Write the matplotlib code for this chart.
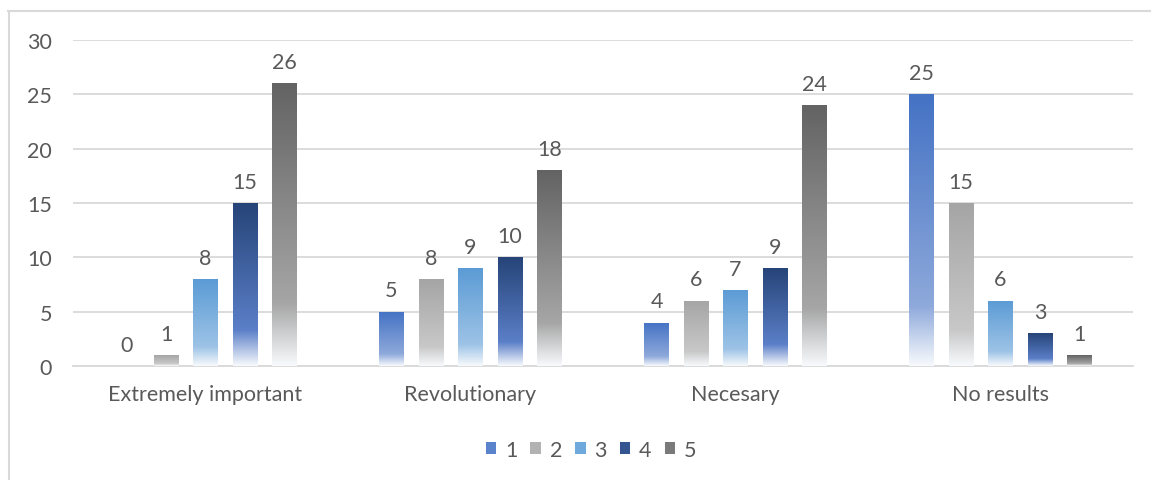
import matplotlib.pyplot as plt
import numpy as np
from matplotlib.colors import LinearSegmentedColormap, to_rgb
from matplotlib.patches import Patch
from matplotlib.lines import Line2D

categories = ['Extremely important', 'Revolutionary', 'Necesary', 'No results']
series_names = ['1', '2', '3', '4', '5']
s1 = [0, 5, 4, 25]
s2 = [1, 8, 6, 15]
s3 = [8, 9, 7, 6]
s4 = [15, 10, 9, 3]
s5 = [26, 18, 24, 1]
values = [s1, s2, s3, s4, s5]

# top colour, middle colour of each gradient
top_colors = ['#4472C4', '#A5A5A5', '#5B9BD5', '#264478', '#636363']
mid_colors = ['#8EA9DB', '#C8C8C8', '#9DC3E6', '#5B7FC8', '#A6A6A6']
legend_colors = ['#5A83CC', '#B2B2B2', '#6FA8DA', '#34558F', '#7A7A7A']

plt.rcParams['font.family'] = ['Lato', 'DejaVu Sans']
text_col = '#595959'
grid_col = '#D9D9D9'
fs = 15.5

fig = plt.figure(figsize=(11.51, 4.81), dpi=100)
ax = fig.add_axes([73 / 1151, 114 / 481, 1060 / 1151, 326 / 481])

# chart border
fig.add_artist(Line2D([8 / 1151, 1], [1 - 12 / 481, 1 - 12 / 481], color=grid_col, lw=1.5))
fig.add_artist(Line2D([8.5 / 1151, 8.5 / 1151], [0, 1 - 12 / 481], color=grid_col, lw=1.5))

x = np.arange(len(categories))
slot = 0.149
width = 0.091


def make_cmap(top, mid):
    return LinearSegmentedColormap.from_list(
        'g', [(0.0, to_rgb(top)), (0.78, to_rgb(mid)), (1.0, (0.97, 0.98, 0.99))])


for i, vals in enumerate(values):
    pos = x + (i - 2) * slot
    bars = ax.bar(pos, vals, width, color='none', edgecolor='none', zorder=3)
    cmap = make_cmap(top_colors[i], mid_colors[i])
    grad = np.linspace(0, 1, 256).reshape(-1, 1)
    for b, v in zip(bars, vals):
        if v > 0:
            im = ax.imshow(grad, cmap=cmap, aspect='auto', origin='upper',
                           extent=[b.get_x(), b.get_x() + width, 0, v], zorder=3)
            im.set_clip_path(b)
        ax.text(b.get_x() + width / 2, v + 1.05, str(v), ha='center', va='bottom',
                fontsize=fs, color=text_col)

ax.set_xlim(-0.5, 3.5)
ax.set_ylim(0, 30)
ax.set_yticks(range(0, 31, 5))
ax.set_xticks(x)
ax.set_xticklabels(categories)
ax.yaxis.grid(True, color=grid_col, lw=1.3)
ax.set_axisbelow(True)
for s in ['top', 'right', 'left']:
    ax.spines[s].set_visible(False)
ax.spines['bottom'].set_color(grid_col)
ax.spines['bottom'].set_linewidth(1.3)
ax.tick_params(axis='both', length=0, labelsize=fs, colors=text_col)
ax.tick_params(axis='x', pad=13)
ax.tick_params(axis='y', pad=15)

handles = [Patch(facecolor=legend_colors[i], edgecolor='none') for i in range(5)]
fig.legend(handles, series_names, loc='center', bbox_to_anchor=(591 / 1151, 1 - 451 / 481),
           ncol=5, frameon=False, fontsize=fs, labelcolor=text_col,
           handlelength=0.5, handleheight=0.5, handletextpad=0.4, columnspacing=0.6)

fig.savefig('out.png', dpi=100)
